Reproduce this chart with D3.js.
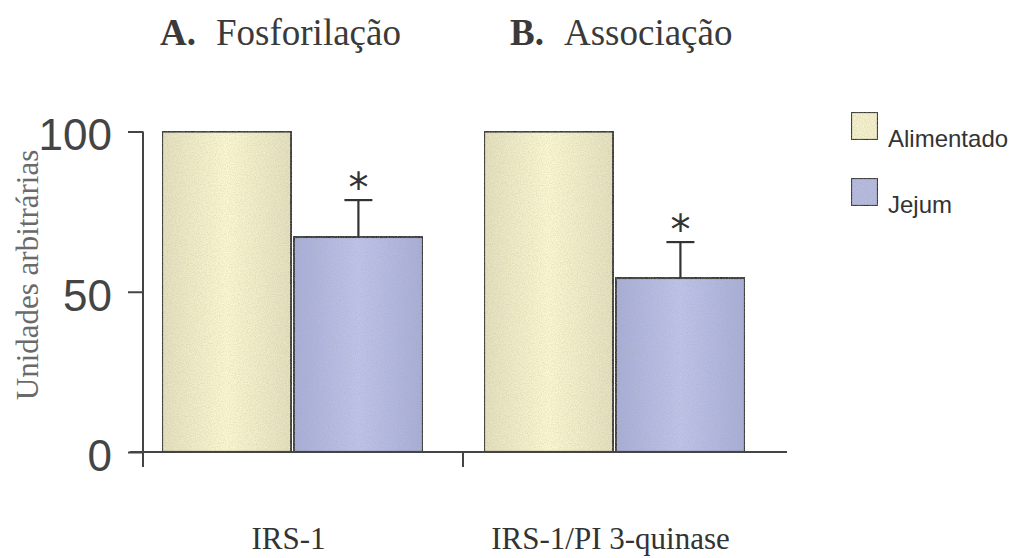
<!DOCTYPE html>
<html>
<head>
<meta charset="utf-8">
<script src="https://cdn.jsdelivr.net/npm/d3@7"></script>
<style>
  body { margin: 0; background: #fff; }
  svg { display: block; }
</style>
</head>
<body>
<div id="vis"></div>
<script>
const categories = ["IRS-1", "IRS-1/PI 3-quinase"];
const series = ["Alimentado", "Jejum"];
const alimentado = [100, 100];
const jejum = [67.1, 54.3];
const jejumErr = [11.5, 11.2];
const yTicks = [0, 50, 100];
const panelTitles = [["A.", "Fosforilação"], ["B.", "Associação"]];

const w = 1025, h = 558;

const svg = d3.select("#vis").append("svg")
    .attr("width", w)
    .attr("height", h);

// gradients + grain to mimic the scanned fill
const defs = svg.append("defs");
function grad(id, edge, mid) {
  const g = defs.append("linearGradient").attr("id", id)
      .attr("x1", "0%").attr("x2", "100%").attr("y1", "0%").attr("y2", "0%");
  g.append("stop").attr("offset", "0%").attr("stop-color", edge);
  g.append("stop").attr("offset", "50%").attr("stop-color", mid);
  g.append("stop").attr("offset", "100%").attr("stop-color", edge);
}
grad("gA", "#e6e1bd", "#fcf9d2");
grad("gJ", "#a8aed8", "#bfc4ea");

const grain = defs.append("filter").attr("id", "grain")
    .attr("x", 0).attr("y", 0).attr("width", 1).attr("height", 1);
grain.append("feTurbulence").attr("type", "fractalNoise")
    .attr("baseFrequency", 0.9).attr("numOctaves", 2).attr("seed", 3)
    .attr("result", "noise");
grain.append("feColorMatrix").attr("in", "noise").attr("type", "matrix")
    .attr("values", "0 0 0 0 0.35  0 0 0 0 0.35  0 0 0 0 0.35  0 0 0 0.6 -0.2")
    .attr("result", "dots");
grain.append("feComposite").attr("in", "dots").attr("in2", "SourceGraphic")
    .attr("operator", "in").attr("result", "dotsIn");
grain.append("feMerge").selectAll("feMergeNode")
    .data(["SourceGraphic", "dotsIn"]).join("feMergeNode").attr("in", d => d);

const fills = { Alimentado: "url(#gA)", Jejum: "url(#gJ)" };
const legendFills = { Alimentado: "#f6f2cc", Jejum: "#b6bbe0" };

const y = d3.scaleLinear().domain([0, 100]).range([452, 131.5]);
const x0 = d3.scaleBand().domain(categories).range([143, 787]);
const x1 = d3.scaleBand().domain(series)
    .range([19, 280]).paddingInner(0.02);

const rows = categories.map((c, i) => ({
  cat: c,
  bars: [
    { s: "Alimentado", v: alimentado[i], err: 0 },
    { s: "Jejum", v: jejum[i], err: jejumErr[i] }
  ]
}));

// bars
const groups = svg.selectAll("g.grp").data(rows).join("g")
    .attr("class", "grp")
    .attr("transform", d => `translate(${x0(d.cat)},0)`);

groups.selectAll("rect").data(d => d.bars).join("rect")
    .attr("x", d => x1(d.s))
    .attr("y", d => y(d.v))
    .attr("width", x1.bandwidth())
    .attr("height", d => y(0) - y(d.v))
    .attr("fill", d => fills[d.s])
    .attr("filter", "url(#grain)")
    .attr("stroke", "#35352d")
    .attr("stroke-width", 2.2);

// error bars + asterisks
const errs = groups.selectAll("g.err").data(d => d.bars.filter(b => b.err > 0))
    .join("g").attr("class", "err")
    .attr("transform", d => `translate(${x1(d.s) + x1.bandwidth() / 2},0)`);
errs.append("line")
    .attr("y1", d => y(d.v)).attr("y2", d => y(d.v + d.err))
    .attr("stroke", "#333").attr("stroke-width", 2.2);
errs.append("line")
    .attr("x1", -14).attr("x2", 14)
    .attr("y1", d => y(d.v + d.err)).attr("y2", d => y(d.v + d.err))
    .attr("stroke", "#333").attr("stroke-width", 2.2);
errs.append("text")
    .attr("y", d => y(d.v + d.err) + 2)
    .attr("text-anchor", "middle")
    .attr("font-family", "DejaVu Sans, sans-serif")
    .attr("font-size", 40)
    .attr("fill", "#333")
    .text("*");

// y axis
const yAxis = svg.append("g")
    .attr("transform", `translate(${x0.range()[0]},0)`)
    .call(d3.axisLeft(y).tickValues(yTicks).tickSize(15).tickPadding(16));
yAxis.select(".domain").remove();
yAxis.selectAll(".tick line").attr("stroke", "#444").attr("stroke-width", 2);
yAxis.selectAll(".tick text")
    .attr("font-family", "Liberation Sans, Arial, sans-serif")
    .attr("font-size", 44)
    .attr("fill", "#444")
    .attr("dy", "0.42em");
yAxis.append("line")
    .attr("y1", y(100)).attr("y2", y(0) + 15)
    .attr("stroke", "#444").attr("stroke-width", 2);

// x axis baseline and separator tick
svg.append("line")
    .attr("x1", x0.range()[0] - 13).attr("x2", x0.range()[1])
    .attr("y1", y(0)).attr("y2", y(0))
    .attr("stroke", "#444").attr("stroke-width", 2);
svg.selectAll("line.sep").data(categories.slice(1)).join("line")
    .attr("class", "sep")
    .attr("x1", d => x0(d) - 2).attr("x2", d => x0(d) - 2)
    .attr("y1", y(0)).attr("y2", y(0) + 15)
    .attr("stroke", "#444").attr("stroke-width", 2);

// category labels
svg.selectAll("text.cat").data(categories).join("text")
    .attr("class", "cat")
    .attr("x", d => x0(d) + 19 + 261 / 2 - 4)
    .attr("y", 549)
    .attr("text-anchor", "middle")
    .attr("font-family", "Liberation Serif, Times New Roman, serif")
    .attr("font-size", 31)
    .attr("fill", "#333")
    .text(d => d);

// y label
svg.append("text")
    .attr("transform", "translate(38,275) rotate(-90)")
    .attr("text-anchor", "middle")
    .attr("font-family", "Liberation Serif, Times New Roman, serif")
    .attr("font-size", 31)
    .attr("fill", "#6a6a6a")
    .text("Unidades arbitrárias");

// panel titles
const titles = svg.selectAll("text.ttl").data(panelTitles).join("text")
    .attr("class", "ttl")
    .attr("x", (d, i) => [160, 510][i])
    .attr("y", 45)
    .attr("font-family", "Liberation Serif, Times New Roman, serif")
    .attr("font-size", 37)
    .attr("fill", "#3a3a3a");
titles.append("tspan").attr("font-weight", "bold").text(d => d[0]);
titles.append("tspan").attr("dx", 20).text(d => d[1]);

// legend
const legend = svg.selectAll("g.leg").data(series).join("g")
    .attr("class", "leg")
    .attr("transform", (d, i) => `translate(851,${[112, 178][i]})`);
legend.append("rect")
    .attr("width", 27).attr("height", 28)
    .attr("fill", d => legendFills[d])
    .attr("filter", "url(#grain)")
    .attr("stroke", "#35352d").attr("stroke-width", 2.2);
legend.append("text")
    .attr("x", 37).attr("y", 35)
    .attr("font-family", "Liberation Sans, Arial, sans-serif")
    .attr("font-size", 24)
    .attr("fill", "#333")
    .text(d => d);
</script>
</body>
</html>
